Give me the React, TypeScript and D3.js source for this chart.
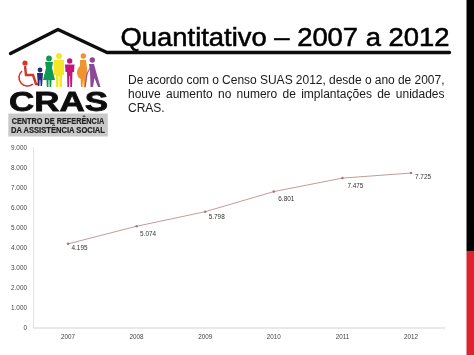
import React from "react";
import * as d3 from "d3";

const years = ["2007", "2008", "2009", "2010", "2011", "2012"];
const values = [4195, 5074, 5798, 6801, 7475, 7725];
const yTicks = [0, 1000, 2000, 3000, 4000, 5000, 6000, 7000, 8000, 9000];
const labelDx = [3.5, 3.5, 3.5, 4.5, 5, 4];
const labelDy = [6.5, 9.5, 7, 9, 9.5, 6];
const bodyLines = [
  { text: "De acordo com o Censo SUAS 2012, desde o ano de 2007,", y: 83.5 },
  { text: "houve aumento no numero de implantações de unidades", y: 97.5 },
];

const fmt = (v: number) => d3.format(",")(v).replace(/,/g, ".");
const sans = "'Liberation Sans', Arial, sans-serif";

function justify(text: string, width: number, font: string) {
  const ctx = document.createElement("canvas").getContext("2d");
  if (!ctx) return 0;
  ctx.font = font;
  const n = text.split(" ").length - 1;
  return (width - ctx.measureText(text).width) / n;
}

function Logo() {
  return (
    <g>
      {/* wheelchair */}
      <circle cx={25} cy={63} r={2.6} fill="#d8352a" />
      <path d="M22 71 A8 8 0 1 0 33 84" fill="none" stroke="#d8352a" strokeWidth={1.6} />
      <path d="M25 66 L26 75 L33 75 L36 84 L38 84" fill="none" stroke="#d8352a" strokeWidth={2.4} />
      {/* child */}
      <circle cx={40} cy={70} r={2.4} fill="#2b2a78" />
      <path d="M37 73 L43 73 L42.5 80 L42 86 L40.6 86 L40.3 80 L39.7 80 L39.4 86 L38 86 L37.5 80 Z" fill="#2b2a78" />
      {/* woman, green */}
      <circle cx={49} cy={58.5} r={2.9} fill="#0f9a55" />
      <path d="M45 62 L53 62 L52 68 L55 80 L51.5 80 L51.2 87 L49.6 87 L49.4 80 L48.6 80 L48.4 87 L46.8 87 L46.5 80 L43 80 L46 68 Z" fill="#0f9a55" />
      {/* man, yellow */}
      <circle cx={59} cy={56} r={3} fill="#f5e726" />
      <path d="M54 60 L64 60 L64 75 L62 75 L62 87 L59.6 87 L59.4 76 L58.6 76 L58.4 87 L56 87 L56 75 L54 75 Z" fill="#f5e726" />
      {/* woman, magenta */}
      <circle cx={69.7} cy={61} r={2.7} fill="#c2187a" />
      <path d="M65 64.5 L74.5 64.5 L74 72 L72.5 72 L72 87 L70.3 87 L70 76 L69.4 76 L69.1 87 L67.4 87 L67 72 L65.5 72 Z" fill="#c2187a" />
      {/* pregnant woman, orange */}
      <circle cx={83.3} cy={56} r={2.7} fill="#ee9530" />
      <path d="M80 60 L86 60 L87.5 72 L87 78 L85.5 87 L83.8 87 L83.2 79 L82.5 87 L81 87 L80.6 79 C76 77 76 69 80 66 Z" fill="#ee9530" />
      {/* elder, purple */}
      <circle cx={92.3} cy={60} r={2.7} fill="#8e4a96" />
      <path d="M89 64 L94 64 L97 75 L100.5 87 L98 87 L94.5 78 L93 87 L90.5 87 L90 72 Z" fill="#8e4a96" />
      <path d="M90 68 L87 74 L85 87.5" fill="none" stroke="#8e4a96" strokeWidth={1} />

      <text x={9} y={110.5} fontSize={28.5} fontWeight={700} fill="#111" textLength={99} lengthAdjust="spacingAndGlyphs" stroke="#111" strokeWidth={0.8}>
        CRAS
      </text>
      <rect x={8.3} y={113.5} width={99.5} height={23} fill="#c9c9c9" />
      <text x={11.7} y={123.7} fontSize={8.2} fontWeight={700} fill="#222" stroke="#222" strokeWidth={0.2} textLength={92.5} lengthAdjust="spacingAndGlyphs">CENTRO DE REFERÊNCIA</text>
      <text x={11} y={133.3} fontSize={8.2} fontWeight={700} fill="#222" stroke="#222" strokeWidth={0.2} textLength={94} lengthAdjust="spacingAndGlyphs">DA ASSISTÊNCIA SOCIAL</text>
    </g>
  );
}

export default function App() {
  const x = d3.scalePoint<string>().domain(years).range([68, 411]);
  const y = d3.scaleLinear().domain([0, 9000]).range([328, 147.5]);
  const line = d3
    .line<number>()
    .x((_, i) => x(years[i]) as number)
    .y((d) => y(d));
  return (
    <svg
      width={474}
      height={355}
      style={{ position: "absolute", left: 0, top: 0, background: "#fff" }}
      fontFamily={sans}
    >
      <defs>
        <filter id="soft" x="-5%" y="-5%" width="110%" height="110%">
          <feGaussianBlur stdDeviation={0.4} />
        </filter>
        <filter id="softer" x="-5%" y="-5%" width="110%" height="110%">
          <feGaussianBlur stdDeviation={0.25} />
        </filter>
      </defs>
      <rect x={466.5} y={0} width={8} height={251} fill="#000" />
      <rect x={466.5} y={251} width={8} height={104} fill="#d9262c" />

      <g filter="url(#softer)">
        <path
          d="M10.5 53.5 L58 29.5 L107 52.5 L449.5 52.5"
          fill="none"
          stroke="#111"
          strokeWidth={3.4}
          strokeLinecap="round"
          strokeLinejoin="round"
        />
        <text x={120.5} y={45.5} fontSize={26.5} stroke="#000" strokeWidth={0.55} fill="#000" textLength={329} lengthAdjust="spacingAndGlyphs">
          Quantitativo – 2007 a 2012
        </text>
        {bodyLines.map((l) => (
          <text key={l.y} x={128} y={l.y} fontSize={12} fill="#1a1a1a" wordSpacing={justify(l.text, 316.5, `12px ${sans}`)}>
            {l.text}
          </text>
        ))}
        <text x={128} y={111.5} fontSize={12} fill="#1a1a1a">CRAS.</text>
        <Logo />
      </g>

      <g filter="url(#soft)">
        <line x1={33.5} x2={33.5} y1={147} y2={328} stroke="#e2e2e2" />
        <line x1={33.5} x2={445} y1={328} y2={328} stroke="#d4d0d4" />
        {yTicks.map((t) => (
          <text key={t} x={27} y={y(t) + 2.2} textAnchor="end" fontSize={6.4} fill="#444">
            {fmt(t)}
          </text>
        ))}
        {years.map((yr) => (
          <text key={yr} x={x(yr)} y={338.5} textAnchor="middle" fontSize={6.3} fill="#444">
            {yr}
          </text>
        ))}
        <path d={line(values) ?? ""} fill="none" stroke="#c49a9a" strokeWidth={1} />
        {values.map((v, i) => (
          <circle key={years[i]} cx={x(years[i])} cy={y(v)} r={1.3} fill="#a08080" />
        ))}
        {values.map((v, i) => (
          <text key={years[i]} x={(x(years[i]) as number) + labelDx[i]} y={y(v) + labelDy[i]} fontSize={6.4} fill="#333">
            {fmt(v)}
          </text>
        ))}
      </g>
    </svg>
  );
}
